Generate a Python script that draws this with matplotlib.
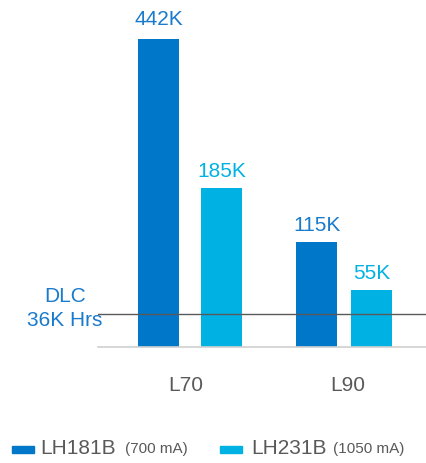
import matplotlib.pyplot as plt
import numpy as np
from matplotlib.patches import Rectangle

plt.rcParams['font.family'] = ['Liberation Sans', 'DejaVu Sans']

# data
groups = ['L70', 'L90']
series = ['LH181B', 'LH231B']
currents = ['(700 mA)', '(1050 mA)']
labels_181 = ['442K', '115K']
labels_231 = ['185K', '55K']
# drawn bar heights (the chart is not to scale, so estimate them from the picture)
heights_181 = [442, 151]
heights_231 = [228, 82]
dlc_height = 47
dlc_label = 'DLC\n36K Hrs'

dark_blue = '#0077c8'
light_blue = '#00b2e3'
gray = '#595959'

fig = plt.figure(figsize=(4.27, 4.63), dpi=100)
ax = fig.add_axes([98 / 427, 116 / 463, 329 / 427, 347 / 463])

x = np.arange(len(groups))
off = np.array([0.2045, 0.178])
w = 0.266
b1 = ax.bar(x - off, heights_181, w, color=dark_blue)
b2 = ax.bar(x + off, heights_231, w, color=light_blue)

for bars, labs, c in [(b1, labels_181, '#1a7acb'), (b2, labels_231, light_blue)]:
    for bar, lab in zip(bars, labs):
        ax.annotate(lab, (bar.get_x() + bar.get_width() / 2, bar.get_height()),
                    xytext=(0, 7 if bar.get_height() > 400 else 5), textcoords='offset points',
                    ha='center', va='bottom', fontsize=15, color=c)

ax.axhline(dlc_height, color=gray, lw=1)
fig.text(65 / 427, 1 - 308.5 / 463, dlc_label, ha='center', va='center',
         fontsize=15, color='#1a7acb', linespacing=1.35)

ax.set_xlim(-0.597, 1.539)
ax.set_ylim(0, 498)
ax.set_xticks(x + np.array([-0.03, 0.025]))
ax.set_xticklabels(groups, fontsize=15, color=gray)
ax.tick_params(axis='x', length=0, pad=21)
ax.set_yticks([])
for s in ['top', 'right', 'left']:
    ax.spines[s].set_visible(False)
ax.spines['bottom'].set_color('#d0d0d0')
ax.spines['bottom'].set_linewidth(1.2)

# legend drawn by hand
legend_y = 1 - 449 / 463
for hx, tx, cx, name, cur, c in [(12, 40, 125, series[0], currents[0], dark_blue),
                                 (220, 251, 333, series[1], currents[1], light_blue)]:
    fig.patches.append(Rectangle((hx / 427, 1 - 453 / 463), 22 / 427, 7 / 463,
                                 transform=fig.transFigure, color=c))
    fig.text(tx / 427, legend_y, name, ha='left', va='center', fontsize=15, color=gray)
    fig.text(cx / 427, legend_y, cur, ha='left', va='center', fontsize=11, color=gray)

fig.savefig('out.png', dpi=100)
